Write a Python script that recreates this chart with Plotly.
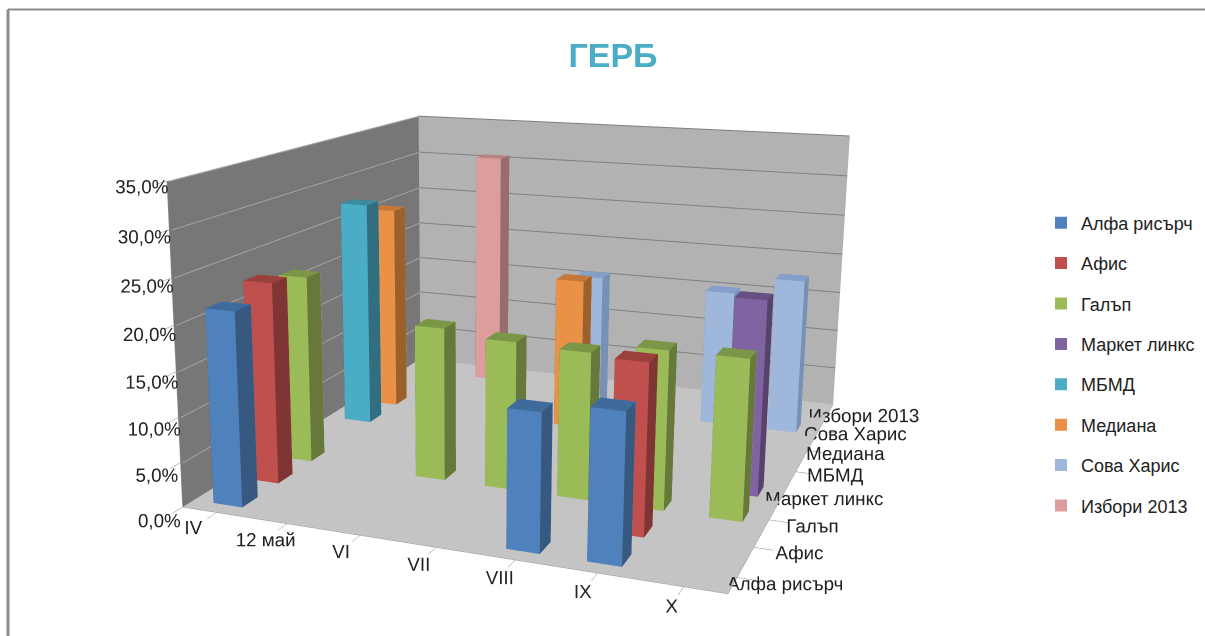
import plotly.graph_objects as go

categories = ["IV", "12 май", "VI", "VII", "VIII", "IX", "X"]
series_names = ["Алфа рисърч", "Афис", "Галъп", "Маркет линкс", "МБМД", "Медиана", "Сова Харис", "Избори 2013"]
alfa = [21.5, None, None, None, 14.6, 15.7, None]
afis = [22.8, None, None, None, None, 18.4, None]
galup = [21.8, None, 17.5, 16.8, 16.5, 17.6, 17.6]
market = [None, None, None, None, None, None, 21.9]
mbmd = [27.5, None, None, None, None, None, None]
mediana = [25.5, None, None, 18.5, None, None, None]
sova = [None, None, None, 17.3, None, 16.8, 19.0]
izbori = [None, 30.5, None, None, None, None, None]
series_values = [alfa, afis, galup, market, mbmd, mediana, sova, izbori]
front_colors = ["#4f81bd", "#c0504d", "#9bbb59", "#8064a2", "#4bacc6", "#e89147", "#a0b7dc", "#dc9d9d"]
side_colors = ["#37597f", "#7f3533", "#66793a", "#55436c", "#316f80", "#9c602c", "#7890b3", "#966c6c"]
top_colors = ["#3f6a9c", "#9c403d", "#7c9647", "#665083", "#3c8a9f", "#c67838", "#85a0c8", "#b88585"]
z_ticks = [0, 5, 10, 15, 20, 25, 30, 35]
z_labels = ["0,0%", "5,0%", "10,0%", "15,0%", "20,0%", "25,0%", "30,0%", "35,0%"]

OFF_X, OFF_Y = 100, 306.5
CENTER_X = 464
FIG_W, FIG_H = 1205 + OFF_X, 1245
BAR_W, BAR_D = 0.42, 0.42
X_LO, X_HI, Y_LO, Y_HI = -0.5, 6.5, -0.5, 7.5
EPS = 0.03

def px(x):
    return (x + OFF_X) / FIG_W
def py(y):
    return 1 - (y + OFF_Y) / FIG_H

fig = go.Figure()
for t in z_ticks[1:]:
    fig.add_trace(go.Scatter3d(x=[X_LO + EPS, X_LO + EPS], y=[Y_LO, Y_HI], z=[t, t], mode="lines", showlegend=False, hoverinfo="skip",
                               line=dict(color="#a3a3a3", width=2)))
    fig.add_trace(go.Scatter3d(x=[X_LO, X_HI], y=[Y_HI - EPS, Y_HI - EPS], z=[t, t], mode="lines", showlegend=False, hoverinfo="skip",
                               line=dict(color="#7f7f7f", width=2)))
for s, vals in enumerate(series_values):
    xs, ys, zs, ii, jj, kk, fc = [], [], [], [], [], [], []
    for c, v in enumerate(vals):
        if v is None:
            continue
        b = len(xs)
        x0, x1 = c - BAR_W / 2, c + BAR_W / 2
        y0, y1 = s - BAR_D / 2, s + BAR_D / 2
        xs += [x0, x1, x1, x0, x0, x1, x1, x0]
        ys += [y0, y0, y1, y1, y0, y0, y1, y1]
        zs += [0, 0, 0, 0, v, v, v, v]
        faces = [((0, 1, 5), front_colors[s]), ((0, 5, 4), front_colors[s]),
                 ((1, 2, 6), side_colors[s]), ((1, 6, 5), side_colors[s]),
                 ((4, 5, 6), top_colors[s]), ((4, 6, 7), top_colors[s]),
                 ((3, 2, 6), front_colors[s]), ((3, 6, 7), front_colors[s]),
                 ((0, 3, 7), side_colors[s]), ((0, 7, 4), side_colors[s]),
                 ((0, 1, 2), front_colors[s]), ((0, 2, 3), front_colors[s])]
        for (a, d, e), col in faces:
            ii.append(b + a); jj.append(b + d); kk.append(b + e); fc.append(col)
    fig.add_trace(go.Mesh3d(x=xs, y=ys, z=zs, i=ii, j=jj, k=kk, facecolor=fc,
                            name=series_names[s], showlegend=False, flatshading=True, hoverinfo="name",
                            lighting=dict(ambient=1, diffuse=0, specular=0, roughness=1, fresnel=0)))
    fig.add_trace(go.Scatter3d(x=[None], y=[None], z=[None], mode="markers", name=series_names[s],
                               legendgroup=series_names[s], showlegend=True,
                               marker=dict(symbol="square", size=10, color=front_colors[s])))

tick_font = dict(family="Liberation Sans, sans-serif", size=15, color="#222222")
fig.update_layout(
    width=FIG_W, height=FIG_H, margin=dict(l=0, r=0, t=0, b=0), paper_bgcolor="white",
    title=dict(text="<b>ГЕРБ</b>", x=px(613), y=py(55), xanchor="center", yanchor="middle",
               font=dict(family="Liberation Sans, sans-serif", size=34, color="#4bacc6")),
    legend=dict(x=px(1041), y=py(364), yanchor="middle", xanchor="left",
                font=dict(family="Liberation Sans, sans-serif", size=18, color="#222222"),
                tracegroupgap=14, itemwidth=30, itemsizing="constant"),
    scene=dict(
        domain=dict(x=[0.0, 2 * (CENTER_X + OFF_X) / FIG_W], y=[0.0, 1.0]),
        aspectmode="manual", aspectratio=dict(x=0.955, y=1.03, z=0.57),
        camera=dict(eye=dict(x=0.893, y=-2.604, z=0.667), center=dict(x=-0.135, y=-0.059, z=-0.0175), up=dict(x=0, y=0, z=1)),
        xaxis=dict(title="", range=[X_LO, X_HI], tickvals=list(range(7)), ticktext=categories, tickfont=tick_font, tickangle=0,
                   showgrid=False, showbackground=True, backgroundcolor="#777777", zeroline=False, showspikes=False,
                   ticks="outside", ticklen=14, tickcolor="#888888", linecolor="#999999", showline=True),
        yaxis=dict(title="", range=[Y_LO, Y_HI], tickvals=list(range(8)), ticktext=series_names, tickfont=tick_font, tickangle=0,
                   showgrid=False, showbackground=True, backgroundcolor="#b2b2b2", zeroline=False, showspikes=False,
                   ticks="outside", ticklen=14, tickcolor="#888888", linecolor="#999999", showline=True),
        zaxis=dict(title="", range=[0, 35], tickvals=z_ticks, ticktext=z_labels, tickfont=tick_font, tickangle=0,
                   showgrid=False, showbackground=True, backgroundcolor="#c4c4c4", zeroline=False,
                   showspikes=False, ticks="outside", ticklen=16, tickcolor="#888888", linecolor="#999999", showline=True),
    ),
    shapes=[dict(type="line", xref="paper", yref="paper", x0=px(8), x1=1, y0=py(9), y1=py(9), line=dict(color="#8c8c8c", width=2)),
            dict(type="line", xref="paper", yref="paper", x0=px(8), x1=px(8), y0=py(9), y1=0, line=dict(color="#8c8c8c", width=3))],
)
post = (f"document.body.style.margin='0';document.body.style.marginLeft='-{OFF_X}px';document.body.style.marginTop='-{OFF_Y}px';"
        "document.documentElement.style.overflow='hidden';document.body.style.overflow='hidden';")
fig.write_html("out.html", post_script=post, config=dict(displayModeBar=False))
